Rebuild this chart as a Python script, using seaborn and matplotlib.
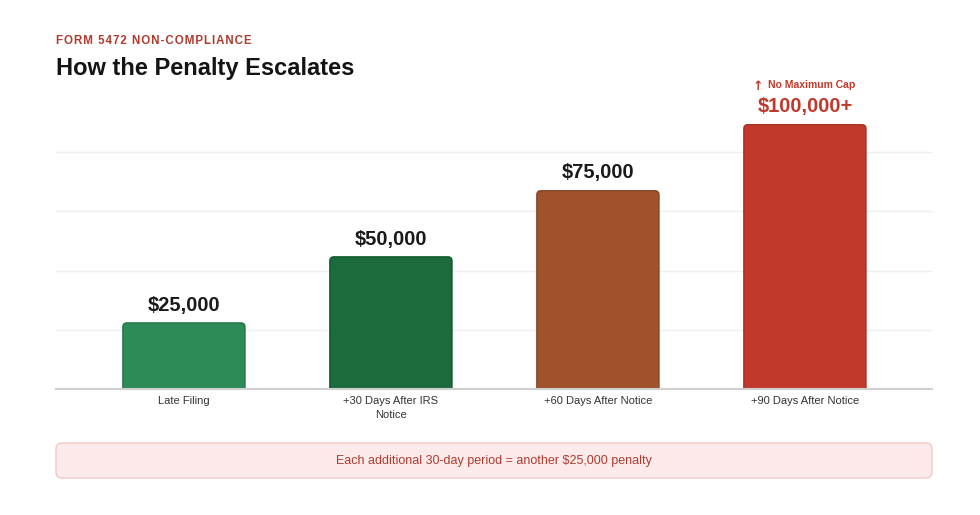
import numpy as np
import seaborn as sns
import matplotlib.pyplot as plt
from matplotlib.patches import FancyBboxPatch

# Chart data
categories = ['Late Filing', '+30 Days After IRS\nNotice', '+60 Days After Notice', '+90 Days After Notice']
values = [25000, 50000, 75000, 100000]
value_labels = ['$25,000', '$50,000', '$75,000', '$100,000+']
bar_colors = ['#2E8B57', '#1B6B3C', '#A0522D', '#C0392B']
edge_colors = ['#237548', '#13552E', '#874422', '#A8301F']
label_colors = ['#1a1a1a', '#1a1a1a', '#1a1a1a', '#C0392B']

sns.set_theme(style='white')
plt.rcParams['font.family'] = ['Liberation Sans', 'DejaVu Sans']

fig = plt.figure(figsize=(9.8, 5.15), dpi=100)
ax = fig.add_axes([56 / 980, 1 - 389 / 515, 876 / 980, 296 / 515])

sns.barplot(x=categories, y=values, hue=categories, palette=bar_colors,
            legend=False, width=0.59, ax=ax, saturation=1)

ax.set_xlim(-0.618, 3.614)
ax.set_ylim(0, 112000)
ax.set_yticks(np.arange(22400, 112000, 22400))
ax.set_yticklabels([])
ax.tick_params(axis='y', length=0)
ax.grid(axis='y', color='#efefef', linewidth=1)
ax.set_axisbelow(True)
for s in ['top', 'right', 'left']:
    ax.spines[s].set_visible(False)
ax.spines['bottom'].set_color('#cfcfcf')
ax.spines['bottom'].set_linewidth(1.5)
ax.spines['bottom'].set_zorder(5)
ax.set_xlabel('')
ax.set_ylabel('')
ax.tick_params(axis='x', length=0, pad=5, labelsize=8, labelcolor='#333333')
for t in ax.get_xticklabels():
    t.set_linespacing(1.5)

# rounded bar tops
fig.canvas.draw()
px_x = ax.transData.transform((1, 0))[0] - ax.transData.transform((0, 0))[0]
px_y = ax.transData.transform((0, 1))[1] - ax.transData.transform((0, 0))[1]
r = 4 / px_x
ry = 4 / px_y
for p, fc, ec in zip(list(ax.patches), bar_colors, edge_colors):
    x0, y0, w, h = p.get_x(), p.get_y(), p.get_width(), p.get_height()
    p.remove()
    ax.add_patch(FancyBboxPatch((x0, y0 - ry), w, h + ry,
                                boxstyle=f'round,pad=0,rounding_size={r}',
                                mutation_aspect=px_x / px_y,
                                facecolor=fc, edgecolor=ec, linewidth=1, zorder=3))

# value labels
for i, (v, lab, c) in enumerate(zip(values, value_labels, label_colors)):
    ax.annotate(lab, (i, v), xytext=(0, 6), textcoords='offset points',
                ha='center', va='bottom', fontsize=14.5, fontweight='bold',
                color=c, annotation_clip=False)
ax.annotate('No Maximum Cap', (3, values[3]), xytext=(5, 25), textcoords='offset points',
            ha='center', va='bottom', fontsize=7.5, fontweight='bold',
            color='#C0392B', annotation_clip=False)
ax.annotate('\u2191', (3, values[3]), xytext=(-34, 22.5), textcoords='offset points',
            ha='center', va='bottom', fontsize=9, fontweight='bold',
            color='#C0392B', annotation_clip=False, family='DejaVu Sans')

# header
subtitle = '\u200a'.join('FORM 5472 NON-COMPLIANCE')
fig.text(56 / 980, 1 - 41 / 515, subtitle, fontsize=8.3,
         fontweight='bold', color='#B03A2E', va='center', ha='left')
fig.text(56 / 980, 1 - 68 / 515, 'How the Penalty Escalates', fontsize=17,
         fontweight='bold', color='#141414', va='center', ha='left')

# callout box
fig.patches.append(FancyBboxPatch((56 / 980, 1 - 478 / 515), 876 / 980, 35 / 515,
                                  boxstyle=f'round,pad=0,rounding_size={6 / 980}',
                                  mutation_aspect=980 / 515,
                                  transform=fig.transFigure, facecolor='#FCEBEA',
                                  edgecolor='#F1C9C5', linewidth=1))
fig.text(494 / 980, 1 - 461 / 515, 'Each additional 30-day period = another $25,000 penalty',
         fontsize=9, color='#B03A2E', ha='center', va='center')

fig.savefig('out.png', dpi=100)
